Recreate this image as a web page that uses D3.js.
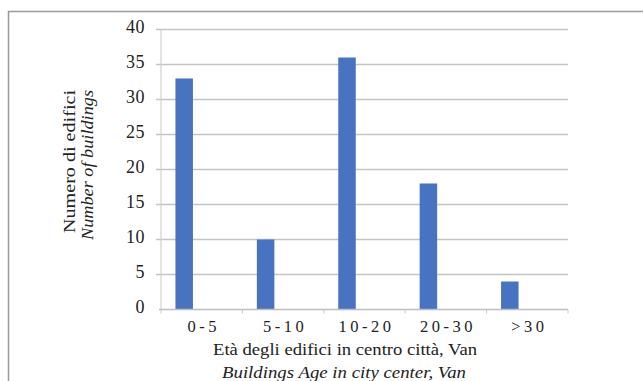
<!DOCTYPE html>
<html>
<head>
<meta charset="utf-8">
<script src="https://cdn.jsdelivr.net/npm/d3@7/dist/d3.min.js"></script>
<style>
  html, body { margin: 0; padding: 0; background: #fff; }
  svg { display: block; }
</style>
</head>
<body>
<svg id="chart" width="643" height="381"></svg>
<script>
// Number of buildings by age class, city centre of Van
const categories = ["0-5", "5-10", "10-20", "20-30", ">30"];
const buildings = [33, 10, 36, 18, 4];
const yTicks = [0, 5, 10, 15, 20, 25, 30, 35, 40];

const W = 643, H = 381;
const serif = "Liberation Serif";
const svg = d3.select("#chart");

// outer frame
svg.append("path")
  .attr("d", `M8.5,${H} V11.5 H${W}`)
  .attr("fill", "none")
  .attr("stroke", "#9a9a9a")
  .attr("stroke-width", 1.5);

const plot = { left: 161, right: 568, top: 29.5, bottom: 309.5 };

const x = d3.scaleBand()
  .domain(categories)
  .range([plot.left, plot.right]);

const y = d3.scaleLinear()
  .domain([0, 40])
  .range([plot.bottom, plot.top]);

const barW = 17.5;

// horizontal gridlines
svg.append("g")
  .selectAll("line")
  .data(yTicks.filter(d => d > 0))
  .join("line")
  .attr("x1", plot.left - 5)
  .attr("x2", plot.right)
  .attr("y1", d => y(d))
  .attr("y2", d => y(d))
  .attr("stroke", "#c4c4c4")
  .attr("stroke-width", 1.5);

// vertical axis line
svg.append("line")
  .attr("x1", plot.left).attr("x2", plot.left)
  .attr("y1", plot.top).attr("y2", plot.bottom)
  .attr("stroke", "#d0d0d0")
  .attr("stroke-width", 1.2);

// bars (first slot of each category group)
svg.append("g")
  .selectAll("rect")
  .data(buildings)
  .join("rect")
  .attr("x", (d, i) => x(categories[i]) + x.bandwidth() / 2 - 1.5 * barW)
  .attr("width", barW)
  .attr("y", d => y(d))
  .attr("height", d => y(0) - y(d))
  .attr("fill", "#4773c0");

// horizontal axis with tick marks between categories
svg.append("line")
  .attr("x1", plot.left - 2).attr("x2", plot.right)
  .attr("y1", plot.bottom).attr("y2", plot.bottom)
  .attr("stroke", "#bdbdc8")
  .attr("stroke-width", 1.5);
svg.append("g")
  .selectAll("line")
  .data(categories.concat(["end"]))
  .join("line")
  .attr("x1", (d, i) => plot.left + i * x.bandwidth())
  .attr("x2", (d, i) => plot.left + i * x.bandwidth())
  .attr("y1", plot.bottom)
  .attr("y2", plot.bottom + 4)
  .attr("stroke", "#c8c8d0")
  .attr("stroke-width", 1);

// y tick labels
svg.append("g")
  .selectAll("text")
  .data(yTicks)
  .join("text")
  .attr("x", 145)
  .attr("y", d => y(d) + 3)
  .attr("text-anchor", "end")
  .attr("font-family", serif)
  .attr("font-size", 18)
  .attr("letter-spacing", 0.5)
  .attr("fill", "#222")
  .text(d => d);

// x tick labels
svg.append("g")
  .selectAll("text")
  .data(categories)
  .join("text")
  .attr("x", d => x(d) + x.bandwidth() / 2 + 2)
  .attr("y", 331.5)
  .attr("text-anchor", "middle")
  .attr("font-family", serif)
  .attr("font-size", 16.5)
  .attr("letter-spacing", 3.5)
  .attr("fill", "#222")
  .text(d => d);

// axis titles
function title(txt, len, italic) {
  return svg.append("text")
    .attr("text-anchor", "middle")
    .attr("font-family", serif)
    .attr("font-size", 17.5)
    .attr("font-style", italic ? "italic" : "normal")
    .attr("textLength", len)
    .attr("lengthAdjust", "spacingAndGlyphs")
    .attr("fill", "#222")
    .text(txt);
}
title("Età degli edifici in centro città, Van", 264, false)
  .attr("x", 345).attr("y", 355);
title("Buildings Age in city center, Van", 244, true)
  .attr("x", 344).attr("y", 377.5);
title("Numero di edifici", 143, false)
  .attr("transform", "translate(75,161.5) rotate(-90)");
title("Number of buildings", 150, true)
  .attr("transform", "translate(93,165) rotate(-90)");
</script>
</body>
</html>
